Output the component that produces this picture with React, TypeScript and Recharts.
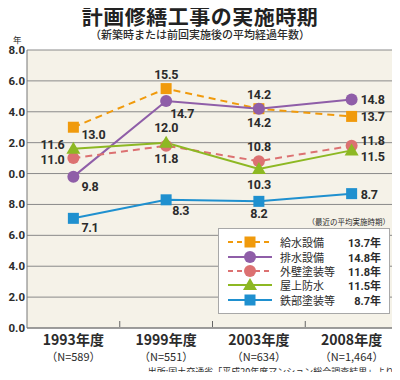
import React from "react";
import { LineChart, Line, XAxis, YAxis, CartesianGrid } from "recharts";

const years = ["1993年度", "1999年度", "2003年度", "2008年度"];
const sampleSizes = ["（N=589）", "（N=551）", "（N=634）", "（N=1,464）"];
const yTicks = [0, 2, 4, 6, 8, 10, 12, 14, 16, 18];

const kyusui = [13.0, 15.5, 14.2, 13.7];
const haisui = [9.8, 14.7, 14.2, 14.8];
const gaiheki = [11.0, 11.8, 10.8, 11.8];
const okujo = [11.6, 12.0, 10.3, 11.5];
const tetsubu = [7.1, 8.3, 8.2, 8.7];

const data = years.map((year, i) => ({
  year,
  kyusui: kyusui[i],
  haisui: haisui[i],
  gaiheki: gaiheki[i],
  okujo: okujo[i],
  tetsubu: tetsubu[i],
}));

const W = 400;
const H = 380;
const PLOT_LEFT = 27;
const PLOT_RIGHT = 2;
const BAND = (W - PLOT_LEFT - PLOT_RIGHT) / years.length;
const NUM = "Roboto, sans-serif";
const JP = "'Noto Sans CJK JP', sans-serif";
const TEXT = "#2b2b2b";

type Marker = "square" | "circle" | "triangle";

const series: {
  key: string;
  name: string;
  color: string;
  values: number[];
  dash?: string;
  marker: Marker;
  // label offsets from the point, per year
  labelAt: [number, number, string][];
}[] = [
  {
    key: "kyusui",
    name: "給水設備",
    color: "#f09a0c",
    values: kyusui,
    dash: "7 5",
    marker: "square",
    labelAt: [[8, 12, "start"], [0, -10, "middle"], [0, -10, "middle"], [9, 5, "start"]],
  },
  {
    key: "haisui",
    name: "排水設備",
    color: "#8f5ea8",
    values: haisui,
    marker: "circle",
    labelAt: [[8, 14, "start"], [4, 17, "start"], [0, 18, "middle"], [9, 5, "start"]],
  },
  {
    key: "gaiheki",
    name: "外壁塗装等",
    color: "#dc7171",
    values: gaiheki,
    dash: "7 5",
    marker: "circle",
    labelAt: [[-9, 6, "end"], [0, 17, "middle"], [0, -10, "middle"], [9, -1, "start"]],
  },
  {
    key: "okujo",
    name: "屋上防水",
    color: "#8db823",
    values: okujo,
    marker: "triangle",
    labelAt: [[-9, 0, "end"], [0, -11, "middle"], [0, 20, "middle"], [9, 11, "start"]],
  },
  {
    key: "tetsubu",
    name: "鉄部塗装等",
    color: "#1f90cf",
    values: tetsubu,
    marker: "square",
    labelAt: [[8, 14, "start"], [6, 15, "start"], [0, 17, "middle"], [9, 5, "start"]],
  },
];

function MarkerShape({ cx, cy, type, color }: { cx: number; cy: number; type: Marker; color: string }) {
  if (cx == null || cy == null) return null;
  if (type === "square") return <rect x={cx - 5.5} y={cy - 5.5} width={11} height={11} fill={color} />;
  if (type === "triangle")
    return <polygon points={`${cx},${cy - 7} ${cx + 7},${cy + 5} ${cx - 7},${cy + 5}`} fill={color} />;
  return <circle cx={cx} cy={cy} r={6} fill={color} />;
}

function PointLabel(props: any) {
  const { x, y, value, index, s } = props;
  const [dx, dy, anchor] = s.labelAt[index];
  return (
    <text
      x={x + dx}
      y={y + dy}
      textAnchor={anchor}
      fontSize={12.5}
      fontWeight={700}
      letterSpacing={-0.3}
      fill={TEXT}
      fontFamily={NUM}
    >
      {Number(value).toFixed(1)}
    </text>
  );
}

function ValueTick(props: any) {
  const { x, y, payload } = props;
  return (
    <text x={x} y={y + 4} textAnchor="end" fontSize={11.5} fontWeight={700} fill={TEXT} fontFamily={NUM}>
      {Number(payload.value).toFixed(1)}
    </text>
  );
}

function YearTick(props: any) {
  const { x, y, payload, index } = props;
  return (
    <g>
      {index < years.length - 1 && (
        <line x1={x + BAND / 2} x2={x + BAND / 2} y1={y - 9} y2={y - 3} stroke="#666" />
      )}
      <text x={x} y={y + 15} textAnchor="middle" fontSize={14} fontWeight={700} fill={TEXT} fontFamily={JP}>
        {payload.value}
      </text>
      <text x={x} y={y + 31} textAnchor="middle" fontSize={11} fill={TEXT} fontFamily={JP}>
        {sampleSizes[index]}
      </text>
    </g>
  );
}

function LegendBox() {
  return (
    <div style={{ position: "absolute", left: 218, top: 228, width: 172 }}>
      <div
        style={{
          position: "absolute",
          right: 0,
          top: -11,
          fontSize: 7.5,
          color: TEXT,
          fontFamily: JP,
          whiteSpace: "nowrap",
          lineHeight: "9px",
        }}
      >
        （最近の平均実施時期）
      </div>
      <div style={{ border: "1px solid #a8a8a8", background: "#fff", height: 86, boxSizing: "border-box", paddingTop: 6 }}>
        {series.map((s) => (
          <div key={s.key} style={{ display: "flex", alignItems: "center", height: 14.4 }}>
            <svg width={48} height={14} style={{ marginLeft: 9 }}>
              <line x1={0} x2={44} y1={7} y2={7} stroke={s.color} strokeWidth={2} strokeDasharray={s.dash ? "5 4" : undefined} />
              <MarkerShape cx={22} cy={7} type={s.marker} color={s.color} />
            </svg>
            <span style={{ marginLeft: 4, fontSize: 11, fontFamily: JP, color: TEXT, flex: 1 }}>{s.name}</span>
            <span style={{ marginRight: 8, fontSize: 11, fontWeight: 700, fontFamily: NUM, color: TEXT }}>
              {s.values[s.values.length - 1].toFixed(1)}
              <span style={{ fontFamily: JP }}>年</span>
            </span>
          </div>
        ))}
      </div>
    </div>
  );
}

export default function App() {
  return (
    <div style={{ position: "relative", width: W, height: H, background: "#fff", margin: -8 }}>
      <div
        style={{
          position: "absolute",
          top: 3,
          width: W,
          textAlign: "center",
          fontSize: 21,
          fontWeight: 700,
          fontFamily: JP,
          color: "#222",
          letterSpacing: 0.5,
          lineHeight: "24px",
        }}
      >
        計画修繕工事の実施時期
      </div>
      <div
        style={{
          position: "absolute",
          top: 28,
          width: W,
          textAlign: "center",
          fontSize: 11,
          fontWeight: 500,
          fontFamily: JP,
          color: TEXT,
          lineHeight: "13px",
        }}
      >
        （新築時または前回実施後の平均経過年数）
      </div>
      <div style={{ position: "absolute", top: 35, left: 13, fontSize: 8.5, fontFamily: JP, color: TEXT, lineHeight: "9px" }}>
        年
      </div>
      <LineChart width={W} height={H} data={data} margin={{ top: 50, right: PLOT_RIGHT, bottom: 22, left: 0 }}>
        <CartesianGrid vertical={false} fill="#f5f2e8" stroke="#8a8a8a" strokeWidth={1} />
        <XAxis
          dataKey="year"
          height={30}
          tick={<YearTick />}
          tickLine={false}
          tickSize={0}
          tickMargin={2}
          axisLine={{ stroke: "#777" }}
          interval={0}
          padding={{ left: BAND / 2, right: BAND / 2 }}
        />
        <YAxis
          width={PLOT_LEFT}
          domain={[0, 18]}
          ticks={yTicks}
          tick={<ValueTick />}
          tickLine={false}
          tickSize={0}
          tickMargin={2}
          axisLine={{ stroke: "#777" }}
        />
        {series.map((s) => (
          <Line
            key={s.key}
            dataKey={s.key}
            name={s.name}
            stroke={s.color}
            strokeWidth={2}
            strokeDasharray={s.dash}
            isAnimationActive={false}
            dot={(p: any) => <MarkerShape key={`${s.key}-${p.index}`} cx={p.cx} cy={p.cy} type={s.marker} color={s.color} />}
            activeDot={false}
            label={(p: any) => <PointLabel key={`${s.key}-l-${p.index}`} {...p} s={s} />}
          />
        ))}
      </LineChart>
      <LegendBox />
      <div
        style={{
          position: "absolute",
          right: 6,
          top: 366,
          fontSize: 9,
          fontFamily: JP,
          color: TEXT,
          whiteSpace: "nowrap",
          lineHeight: "11px",
        }}
      >
        出所:国土交通省「平成20年度マンション総合調査結果」より
      </div>
    </div>
  );
}
